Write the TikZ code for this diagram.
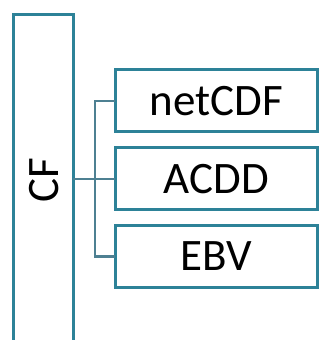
\documentclass[tikz,border=0pt]{standalone}
\usepackage{fontspec}
\setmainfont{Carlito}
\definecolor{boxteal}{RGB}{45,130,152}
\definecolor{lineteal}{RGB}{78,128,146}
\begin{document}
\begin{tikzpicture}[x=1pt,y=1pt,
  box/.style={draw=boxteal, line width=3pt, fill=white, rectangle, inner sep=0pt, outer sep=0pt,
    minimum width=202.5pt, minimum height=61.5pt, font=\fontsize{45}{50}\selectfont},
  conn/.style={draw=lineteal, line width=2.2pt}]
\useasboundingbox[fill=white] (0,0) rectangle (320,340);
\node[draw=boxteal, line width=3pt, rectangle, inner sep=0pt, outer sep=0pt,
  minimum width=60pt, minimum height=345pt] (cf) at (43,152.5) {};
\node[rotate=90, font=\fontsize{45}{50}\selectfont, inner sep=0pt] (cftext) at (44,160) {CF};
\node[box] (netcdf) at (216.25,239.25) {netCDF};
\node[box] (acdd) at (216.25,161.25) {ACDD};
\node[box] (ebv) at (216.25,83.5) {EBV};
\coordinate (j) at (95,161.25);
\draw[conn] (cf.east |- acdd) -- (acdd.west);
\draw[conn] (netcdf.west) -- (j |- netcdf) -- (j |- ebv) -- (ebv.west);
\end{tikzpicture}
\end{document}
